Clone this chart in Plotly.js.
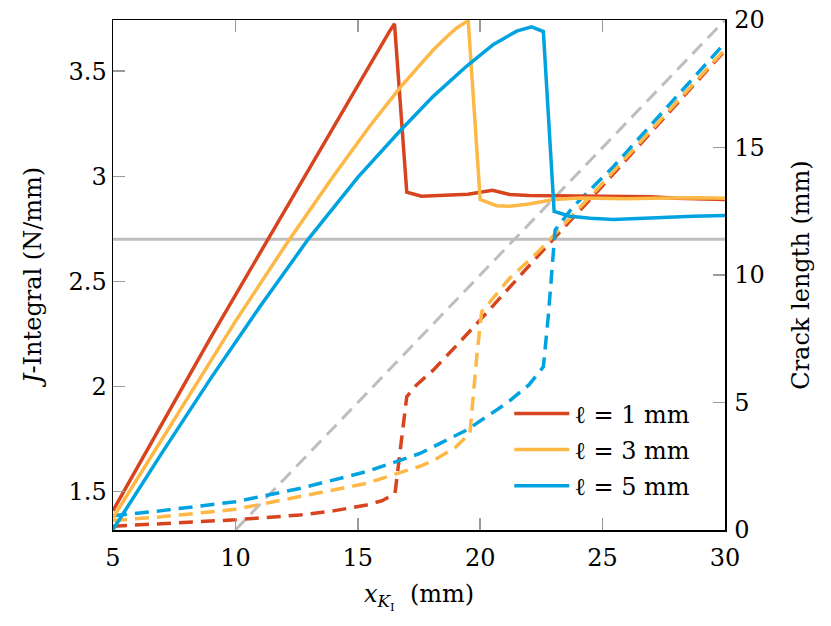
<!DOCTYPE html>
<html>
<head>
<meta charset="utf-8">
<script src="https://cdn.plot.ly/plotly-3.0.1.min.js"></script>
<style>html,body{margin:0;padding:0;background:#fff}#chart{width:831px;height:626px}</style>
</head>
<body>
<div id="chart"></div>
<script>
// J-integral (N/mm), solid lines
const x1J = [5, 7, 9, 11.33, 13, 14, 15, 15.6, 16.0, 16.3, 16.5, 17.0, 17.6, 18.5, 19.5, 20.0, 20.5, 21.2, 22, 23, 24, 25, 26, 27, 28, 29, 30];
const y1J = [1.41, 1.825, 2.235, 2.70, 3.035, 3.235, 3.43, 3.55, 3.63, 3.69, 3.725, 2.924, 2.905, 2.908, 2.915, 2.924, 2.933, 2.913, 2.908, 2.907, 2.905, 2.903, 2.900, 2.902, 2.895, 2.893, 2.890];
const x3J = [5, 8, 10, 12.15, 14, 15.5, 16.72, 17.54, 18.08, 18.6, 19.04, 19.51, 20.0, 20.67, 21.2, 22, 23, 24.08, 25, 26, 27, 28, 29, 30];
const y3J = [1.376, 1.94, 2.31, 2.69, 3.00, 3.24, 3.42, 3.53, 3.60, 3.66, 3.705, 3.74, 2.889, 2.860, 2.857, 2.868, 2.889, 2.897, 2.895, 2.893, 2.895, 2.897, 2.898, 2.896];
const x5J = [5, 7, 9, 11, 12.97, 15, 16.72, 17.54, 18.08, 19.45, 20.54, 21.49, 22.1, 22.58, 23.02, 23.67, 24.5, 25.44, 26.5, 27.5, 28.7, 30];
const y5J = [1.32, 1.685, 2.04, 2.38, 2.70, 2.995, 3.215, 3.318, 3.38, 3.524, 3.627, 3.69, 3.71, 3.688, 2.833, 2.81, 2.80, 2.794, 2.80, 2.805, 2.81, 2.813];

// Crack length (mm), dashed lines
const x1L = [5, 7, 10, 12.63, 14, 15.36, 16, 16.52, 17.0, 17.4, 18.08, 19, 20, 22.58, 25, 30];
const y1L = [0.15, 0.25, 0.40, 0.59, 0.75, 0.98, 1.15, 1.44, 5.23, 5.69, 6.27, 7.2, 8.24, 10.98, 13.5, 18.8];
const x3L = [5, 7, 10, 12.63, 15.36, 16.72, 17.54, 18.08, 19, 19.58, 19.86, 20.06, 21.2, 22.44, 25, 30];
const y3L = [0.37, 0.52, 0.81, 1.31, 1.83, 2.25, 2.50, 2.72, 3.25, 3.79, 6.8, 8.56, 9.87, 10.98, 13.6, 18.85];
const x5L = [5, 7, 10, 12.63, 15.36, 16.72, 17.54, 19.45, 21.08, 22, 22.58, 22.78, 22.99, 23.06, 23.8, 25.44, 30];
const y5L = [0.56, 0.76, 1.11, 1.63, 2.29, 2.75, 3.0, 3.92, 4.97, 5.7, 6.4, 8.37, 10.98, 11.76, 12.68, 14.25, 19.1];
// reference line: crack length = x - 10
const xRef = [10, 30];
const yRef = [0, 20];
// critical J value
const jCrit = 2.7;

const names = ['ℓ&nbsp;=&nbsp;1 mm', 'ℓ&nbsp;=&nbsp;3 mm', 'ℓ&nbsp;=&nbsp;5 mm'];
const colors = ['#D7441E', '#FDB846', '#00A3E0'];
const gray = '#BEBEBE';
const dashStyle = '14px,8px';

const traces = [
  {x: xRef, y: yRef, yaxis: 'y', mode: 'lines', line: {color: gray, width: 3, dash: dashStyle}, showlegend: false},
  {x: x1L, y: y1L, yaxis: 'y', mode: 'lines', line: {color: colors[0], width: 3.5, dash: dashStyle}, showlegend: false},
  {x: x3L, y: y3L, yaxis: 'y', mode: 'lines', line: {color: colors[1], width: 3.5, dash: dashStyle}, showlegend: false},
  {x: x5L, y: y5L, yaxis: 'y', mode: 'lines', line: {color: colors[2], width: 3.5, dash: dashStyle}, showlegend: false},
  {x: x1J, y: y1J, yaxis: 'y2', mode: 'lines', name: names[0], legendgroup: 'g1', line: {color: colors[0], width: 3.5}},
  {x: x3J, y: y3J, yaxis: 'y2', mode: 'lines', name: names[1], legendgroup: 'g3', line: {color: colors[1], width: 3.5}},
  {x: x5J, y: y5J, yaxis: 'y2', mode: 'lines', name: names[2], legendgroup: 'g5', line: {color: colors[2], width: 3.5}}
];

const serif = 'DejaVu Serif, serif';
const tickFont = {family: serif, size: 24, color: '#000'};
const titleFont = {family: serif, size: 24, color: '#000'};
const layout = {
  width: 831, height: 626,
  margin: {l: 113, r: 106, t: 20, b: 96},
  paper_bgcolor: '#fff', plot_bgcolor: '#fff',
  showlegend: true,
  legend: {x: 0.6475, y: 0.272, xanchor: 'left', yanchor: 'top', bgcolor: 'rgba(0,0,0,0)',
           font: {family: serif, size: 24, color: '#000'}, itemwidth: 55, tracegroupgap: 2},
  xaxis: {range: [5, 30], tickvals: [5, 10, 15, 20, 25, 30], ticktext: ['5','10','15','20','25','30'],
          showgrid: false, zeroline: false, showline: true, linecolor: '#000', linewidth: 1.5,
          mirror: 'ticks', ticks: 'inside', ticklen: 12, tickwidth: 1.5, tickcolor: '#9a9a9a',
          tickfont: tickFont, ticklabelstandoff: 6,
          title: {text: '<i>x</i><sub><i>K</i><sub>I</sub></sub>  (mm)', font: titleFont, standoff: 14}},
  yaxis: {range: [0, 20], side: 'right', tickvals: [0, 5, 10, 15, 20], ticktext: ['0','5','10','15','20'],
          showgrid: false, zeroline: false, showline: true, linecolor: '#000', linewidth: 1.5,
          ticks: 'inside', ticklen: 12, tickwidth: 1.5, tickcolor: '#9a9a9a', tickfont: tickFont, ticklabelstandoff: 3,
          title: {text: 'Crack length (mm)', font: titleFont, standoff: 28}},
  yaxis2: {range: [1.318, 3.743], overlaying: 'y', side: 'left', tickvals: [1.5, 2, 2.5, 3, 3.5], ticktext: ['1.5','2','2.5','3','3.5'],
          showgrid: false, zeroline: false, showline: true, linecolor: '#000', linewidth: 1.5,
          ticks: 'inside', ticklen: 12, tickwidth: 1.5, tickcolor: '#9a9a9a', tickfont: tickFont,
          title: {text: '<i>J</i>-Integral (N/mm)', font: titleFont, standoff: 20}},
  shapes: [{type: 'line', xref: 'paper', x0: 0, x1: 1, yref: 'y2', y0: jCrit, y1: jCrit, layer: 'below',
            line: {color: gray, width: 3}}]
};

Plotly.newPlot('chart', traces, layout, {staticPlot: true, displayModeBar: false});
</script>
</body>
</html>
